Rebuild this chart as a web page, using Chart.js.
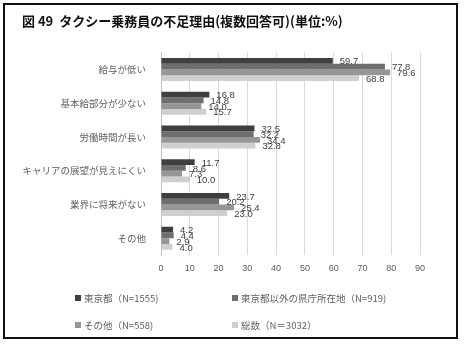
<!DOCTYPE html>
<html>
<head>
<meta charset="utf-8">
<script src="https://cdn.jsdelivr.net/npm/chart.js@4/dist/chart.umd.min.js"></script>
<style>
  body { margin: 0; background: #fff; }
  #wrap { position: relative; width: 464px; height: 344px; }
  #frame { position: absolute; left: 3px; top: 3px; width: 451px; height: 332px; border: 2px solid #111; }
  #myChart { position: absolute; left: 0; top: 0; }
  #legend { position: absolute; left: 0; top: 0; width: 464px; height: 344px; pointer-events: none;
            font-family: "Noto Sans CJK JP", sans-serif; font-size: 9.5px; color: #606060; }
  .item { position: absolute; white-space: nowrap; line-height: 12px; }
  .box { display: inline-block; width: 6px; height: 6px; margin-right: 3px; vertical-align: 1px; }
</style>
</head>
<body>
<div id="wrap">
  <div id="frame"></div>
  <canvas id="myChart" width="464" height="344"></canvas>
  <div id="legend"></div>
</div>
<script>
const categories = ['給与が低い', '基本給部分が少ない', '労働時間が長い', 'キャリアの展望が見えにくい', '業界に将来がない', 'その他'];
const seriesNames = ['東京都（N=1555)', '東京都以外の県庁所在地（N=919)', 'その他（N=558)', '総数（N＝3032）'];
const tokyo = [59.7, 16.8, 32.5, 11.7, 23.7, 4.2];
const prefCapitals = [77.8, 14.8, 32.2, 8.6, 20.2, 4.4];
const others = [79.6, 14.0, 34.4, 7.3, 25.4, 2.9];
const total = [68.8, 15.7, 32.8, 10.0, 23.0, 4.0];
const xTicks = [0, 10, 20, 30, 40, 50, 60, 70, 80, 90];
const colors = ['#3f3f3f', '#6e6e6e', '#969696', '#cfcfcf'];

const seriesValues = [tokyo, prefCapitals, others, total];

// value labels at bar ends
const valueLabels = {
    id: 'valueLabels',
    afterDatasetsDraw(chart) {
        const ctx = chart.ctx;
        ctx.save();
        ctx.font = '9.5px "Liberation Sans", sans-serif';
        ctx.fillStyle = '#404040';
        ctx.textBaseline = 'middle';
        chart.data.datasets.forEach((ds, i) => {
            chart.getDatasetMeta(i).data.forEach((bar, j) => {
                ctx.fillText(ds.data[j].toFixed(1), bar.x + 7, bar.y + 1);
            });
        });
        ctx.restore();
    }
};

const ctx = document.getElementById('myChart').getContext('2d');
const chart = new Chart(ctx, {
    type: 'bar',
    data: {
        labels: categories,
        datasets: seriesValues.map((vals, i) => ({
            label: seriesNames[i],
            data: vals,
            backgroundColor: colors[i],
            categoryPercentage: 0.68,
            barPercentage: 1.0,
        }))
    },
    options: {
        indexAxis: 'y',
        responsive: false,
        animation: false,
        layout: { padding: { left: 22, right: 44, top: 13, bottom: 62 } },
        scales: {
            x: {
                min: 0,
                max: 90,
                afterBuildTicks: (scale) => { scale.ticks = xTicks.map(v => ({ value: v })); },
                grid: { color: '#d9d9d9', drawTicks: false },
                border: { display: false },
                ticks: { padding: 8, color: '#595959', font: { size: 9, family: '"Liberation Sans", sans-serif' } }
            },
            y: {
                afterFit: (scale) => { scale.width = 139; },
                grid: { display: false },
                border: { display: true, color: '#bfbfbf' },
                ticks: { padding: 7, color: '#606060', font: { size: 9.5, family: '"Noto Sans CJK JP", sans-serif' } }
            }
        },
        plugins: {
            legend: { display: false },
            tooltip: { enabled: false },
            title: {
                display: true,
                text: '図 49  タクシー乗務員の不足理由(複数回答可)(単位:%)',
                align: 'start',
                color: '#111',
                font: { size: 13, weight: 'bold', family: '"Noto Sans CJK JP", sans-serif' },
                padding: { top: 0, bottom: 24 }
            }
        }
    },
    plugins: [valueLabels]
});

// two-column legend
const legendPos = [[75, 292], [232, 292], [75, 319], [232, 319]];
const legendBox = document.getElementById('legend');
seriesNames.forEach((name, i) => {
    const el = document.createElement('div');
    el.className = 'item';
    el.style.left = legendPos[i][0] + 'px';
    el.style.top = legendPos[i][1] + 'px';
    el.innerHTML = `<span class="box" style="background:${colors[i]}"></span>${name}`;
    legendBox.appendChild(el);
});
</script>
</body>
</html>
